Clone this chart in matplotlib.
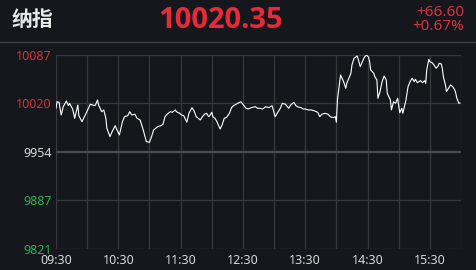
import matplotlib
matplotlib.use("Agg")
import matplotlib.pyplot as plt
from matplotlib.lines import Line2D

# ---- data ----
index_name = "纳指"
last_price = 10020.35
change = "+66.60"
change_pct = "+0.67%"
prev_close = 9953.75

minutes = [0, 1, 3, 4, 5, 7, 10, 12, 13, 16, 18, 21, 22, 25, 29, 32, 33, 37, 38, 40,
           41, 44, 46, 48, 49, 52, 54, 57, 58, 61, 64, 66, 69, 71, 73, 76, 78, 81, 84, 87,
           90, 92, 94, 98, 101, 103, 105, 107, 110, 112, 115, 116, 119, 121, 123, 126, 128, 131, 133, 135,
           139, 141, 143, 145, 147, 148, 150, 151, 153, 155, 158, 160, 162, 164, 167, 169, 171, 175, 178, 180,
           183, 185, 188, 192, 194, 196, 199, 202, 205, 208, 209, 211, 213, 216, 218, 221, 222, 224, 226, 229,
           231, 233, 236, 238, 240, 243, 246, 249, 252, 254, 256, 259, 262, 264, 267, 269, 270, 271, 273, 274,
           277, 279, 280, 282, 284, 285, 287, 290, 291, 293, 295, 297, 299, 301, 302, 303, 306, 307, 309, 310,
           312, 314, 316, 318, 319, 322, 323, 325, 327, 329, 331, 333, 334, 337, 339, 341, 343, 345, 346, 348,
           351, 353, 355, 356, 357, 359, 360, 362, 364, 366, 368, 369, 371, 372, 373, 375, 376, 378, 380, 382,
           384, 385, 386, 388, 389]
prices = [10013.2, 10022.2, 10021.4, 10012.2, 10004.0, 10015.4, 10023.2, 10016.8, 10020.0, 10012.2,
          9999.5, 10017.7, 10003.0, 9994.8, 10006.3, 10015.4, 10018.7, 10016.8, 10017.7, 10024.6,
          10017.7, 10008.5, 10010.9, 9999.5, 9985.7, 9974.2, 9981.1, 9989.3, 9985.7, 9976.6,
          9994.8, 10001.7, 10003.0, 10008.5, 10004.0, 10005.0, 9999.5, 9997.1, 9983.4, 9967.4,
          9966.5, 9974.2, 9983.4, 9988.0, 9989.3, 9991.2, 10001.7, 10005.0, 10008.5, 10007.7,
          10010.9, 10008.5, 10006.3, 10004.0, 10003.0, 9994.0, 10006.3, 10014.0, 10009.5, 10001.7,
          9997.1, 10001.7, 10005.0, 10006.3, 10001.7, 10003.0, 10007.7, 10001.7, 9999.5, 9994.8,
          9984.8, 9990.3, 9999.5, 10000.3, 10006.3, 10014.0, 10016.8, 10020.0, 10022.2, 10018.7,
          10013.2, 10012.2, 10014.0, 10015.4, 10013.2, 10013.2, 10012.2, 10015.4, 10014.0, 10016.8,
          10012.2, 10001.7, 10006.3, 10013.2, 10020.0, 10018.7, 10016.8, 10013.2, 10017.7, 10021.4,
          10016.8, 10015.0, 10014.0, 10012.2, 10012.2, 10010.9, 10010.9, 10009.5, 10007.7, 10001.7,
          10005.0, 10006.3, 10005.0, 10001.7, 10000.3, 10001.7, 9994.0, 10024.6, 10047.5, 10058.9,
          10049.7, 10040.6, 10047.5, 10054.3, 10061.2, 10072.6, 10081.8, 10085.0, 10080.4, 10070.3,
          10077.1, 10083.2, 10086.3, 10083.2, 10077.1, 10065.7, 10061.2, 10056.5, 10052.0, 10026.9,
          10036.0, 10049.7, 10057.5, 10052.0, 10033.8, 10024.6, 10010.9, 10022.2, 10020.0, 10026.9,
          10007.1, 10013.2, 10006.3, 10024.6, 10042.8, 10049.7, 10054.3, 10049.7, 10053.0, 10048.3,
          10051.1, 10048.3, 10051.1, 10047.5, 10065.7, 10080.4, 10077.1, 10075.8, 10072.6, 10068.1,
          10071.2, 10074.9, 10074.0, 10068.1, 10056.5, 10045.2, 10036.0, 10040.6, 10045.2, 10042.8,
          10038.3, 10033.8, 10026.9, 10020.0, 10020.35]

y_ticks = [9820.55, 9887.15, 9953.75, 10020.35, 10086.95]
y_labels = ["9821", "9887", "9954", "10020", "10087"]
x_ticks = [0, 60, 120, 180, 240, 300, 360]
x_labels = ["09:30", "10:30", "11:30", "12:30", "13:30", "14:30", "15:30"]

# ---- style ----
BG = "#15171c"
GRID = "#37393d"
MID = "#4b4d51"
RED = "#e8293a"
RED_T = "#d7333f"
GREEN = "#2fb04f"
LIGHT = "#d8d8d8"
FONT = ["Noto Sans", "Noto Sans CJK SC", "DejaVu Sans"]
plt.rcParams["font.family"] = FONT

fig = plt.figure(figsize=(4.76, 2.70), dpi=100, facecolor=BG)
ax = fig.add_axes([56 / 476, 1 - 248.7 / 270, (461 - 56) / 476, (248.7 - 54.5) / 270])
ax.set_facecolor(BG)

ax.set_xlim(0, 390)
ax.set_ylim(y_ticks[0], y_ticks[-1])

# grid
for xv in range(0, 391, 30):
    ax.axvline(xv, color=GRID, lw=0.9, zorder=1)
for yv in y_ticks:
    if yv == prev_close:
        ax.axhline(yv, color=MID, lw=1.6, zorder=1)
    else:
        ax.axhline(yv, color=GRID, lw=0.9, zorder=1)

ax.plot(minutes, prices, color="white", lw=0.8, zorder=3)

for s in ax.spines.values():
    s.set_visible(False)

ax.set_yticks(y_ticks)
ax.set_yticklabels(y_labels)
ax.set_xticks(x_ticks)
ax.set_xticklabels(x_labels)
ax.tick_params(axis="both", length=0, labelsize=9)
ax.tick_params(axis="y", pad=3)
ax.tick_params(axis="x", pad=4, colors=LIGHT)
for lab, yv in zip(ax.get_yticklabels(), y_ticks):
    if yv > prev_close + 1:
        lab.set_color(RED_T)
    elif yv < prev_close - 1:
        lab.set_color(GREEN)
    else:
        lab.set_color(LIGHT)

# header
fig.text(12 / 476, 1 - 20 / 270, index_name, color="#e8e8e8", fontsize=15,
         fontweight="bold", ha="left", va="center", family=["Noto Sans CJK SC", "DejaVu Sans"])
fig.text(221 / 476, 1 - 20 / 270, f"{last_price:.2f}", color=RED, fontsize=21,
         fontweight="bold", ha="center", va="center", family=["Open Sans", "DejaVu Sans"])
fig.text(464 / 476, 1 - 13 / 270, change, color=RED_T, fontsize=11,
         ha="right", va="center")
fig.text(464 / 476, 1 - 27 / 270, change_pct, color=RED_T, fontsize=11,
         ha="right", va="center")
fig.add_artist(Line2D([0, 1], [1 - 42.3 / 270] * 2, color="#3c3e42", lw=1.0,
                      transform=fig.transFigure))

fig.savefig("out.png", dpi=100, facecolor=BG)
